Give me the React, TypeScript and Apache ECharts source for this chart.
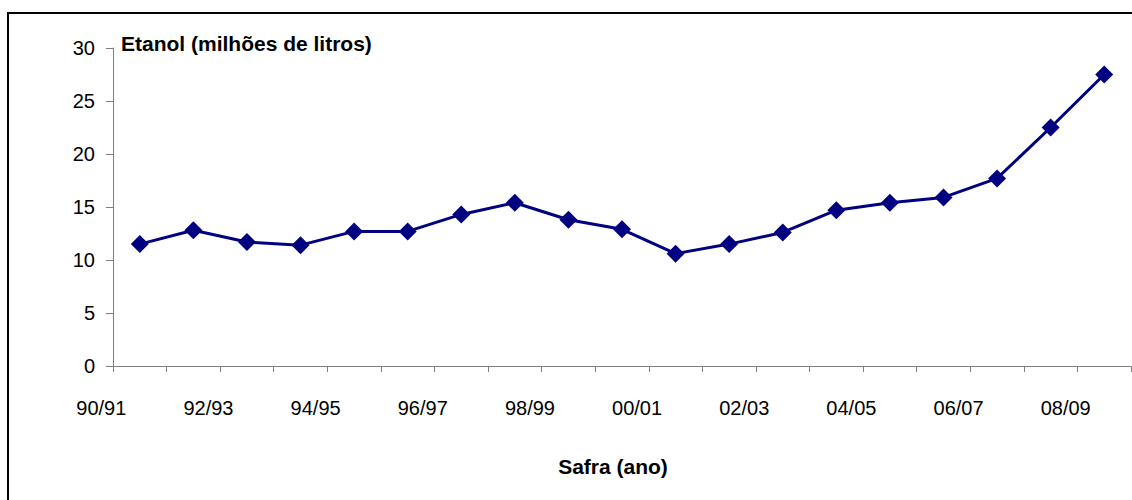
import React, { useEffect, useRef } from "react";
import * as echarts from "echarts";

const categories: string[] = [
  "90/91", "91/92", "92/93", "93/94", "94/95", "95/96", "96/97", "97/98", "98/99", "99/00",
  "00/01", "01/02", "02/03", "03/04", "04/05", "05/06", "06/07", "07/08", "08/09",
];
const etanol: number[] = [
  11.5, 12.8, 11.7, 11.4, 12.7, 12.7, 14.3, 15.4, 13.8, 12.9,
  10.6, 11.5, 12.6, 14.7, 15.4, 15.9, 17.7, 22.5, 27.5,
];
const yTitle = "Etanol (milhões de litros)";
const xTitle = "Safra (ano)";

const FONT = "'Liberation Sans', Arial, sans-serif";

export default function App() {
  const ref = useRef<HTMLDivElement>(null);
  useEffect(() => {
    if (!ref.current) return;
    const chart = echarts.init(ref.current, null, { renderer: "svg" });
    chart.setOption({
      animation: false,
      backgroundColor: "#ffffff",
      grid: { left: 113, right: 1, top: 48, bottom: 134, containLabel: false },
      xAxis: {
        type: "category",
        data: categories,
        boundaryGap: true,
        axisLine: { show: true, lineStyle: { color: "#808080", width: 1 } },
        axisTick: { show: true, interval: 0, length: 6, lineStyle: { color: "#808080" } },
        axisLabel: {
          interval: 1,
          margin: 32,
          color: "#000",
          fontFamily: FONT,
          fontSize: 20,
          align: "center",
          padding: [0, 77, 0, 0],
        },
        splitLine: { show: false },
      },
      yAxis: {
        type: "value",
        min: 0,
        max: 30,
        interval: 5,
        axisLine: { show: true, lineStyle: { color: "#808080", width: 1 } },
        axisTick: { show: true, length: 7, lineStyle: { color: "#808080" } },
        axisLabel: { margin: 18, color: "#000", fontFamily: FONT, fontSize: 20 },
        splitLine: { show: false },
      },
      graphic: [
        {
          type: "rect",
          shape: { x: 8, y: 13, width: 1200, height: 600 },
          style: { fill: "none", stroke: "#000", lineWidth: 2 },
          silent: true,
        },
        {
          type: "text",
          x: 121,
          y: 43,
          style: {
            text: yTitle,
            font: `bold 21px ${FONT}`,
            fill: "#000",
            textAlign: "left",
            textVerticalAlign: "middle",
          },
        },
        {
          type: "text",
          x: 613,
          y: 466,
          style: {
            text: xTitle,
            font: `bold 21px ${FONT}`,
            fill: "#000",
            textAlign: "center",
            textVerticalAlign: "middle",
          },
        },
      ],
      series: [
        {
          type: "line",
          data: etanol,
          symbol: "diamond",
          symbolSize: 18,
          lineStyle: { color: "#000080", width: 3 },
          itemStyle: { color: "#000080" },
        },
      ],
    });
    return () => chart.dispose();
  }, []);
  return (
    <div
      ref={ref}
      style={{ position: "fixed", left: 0, top: 0, width: 1132, height: 500 }}
    />
  );
}
